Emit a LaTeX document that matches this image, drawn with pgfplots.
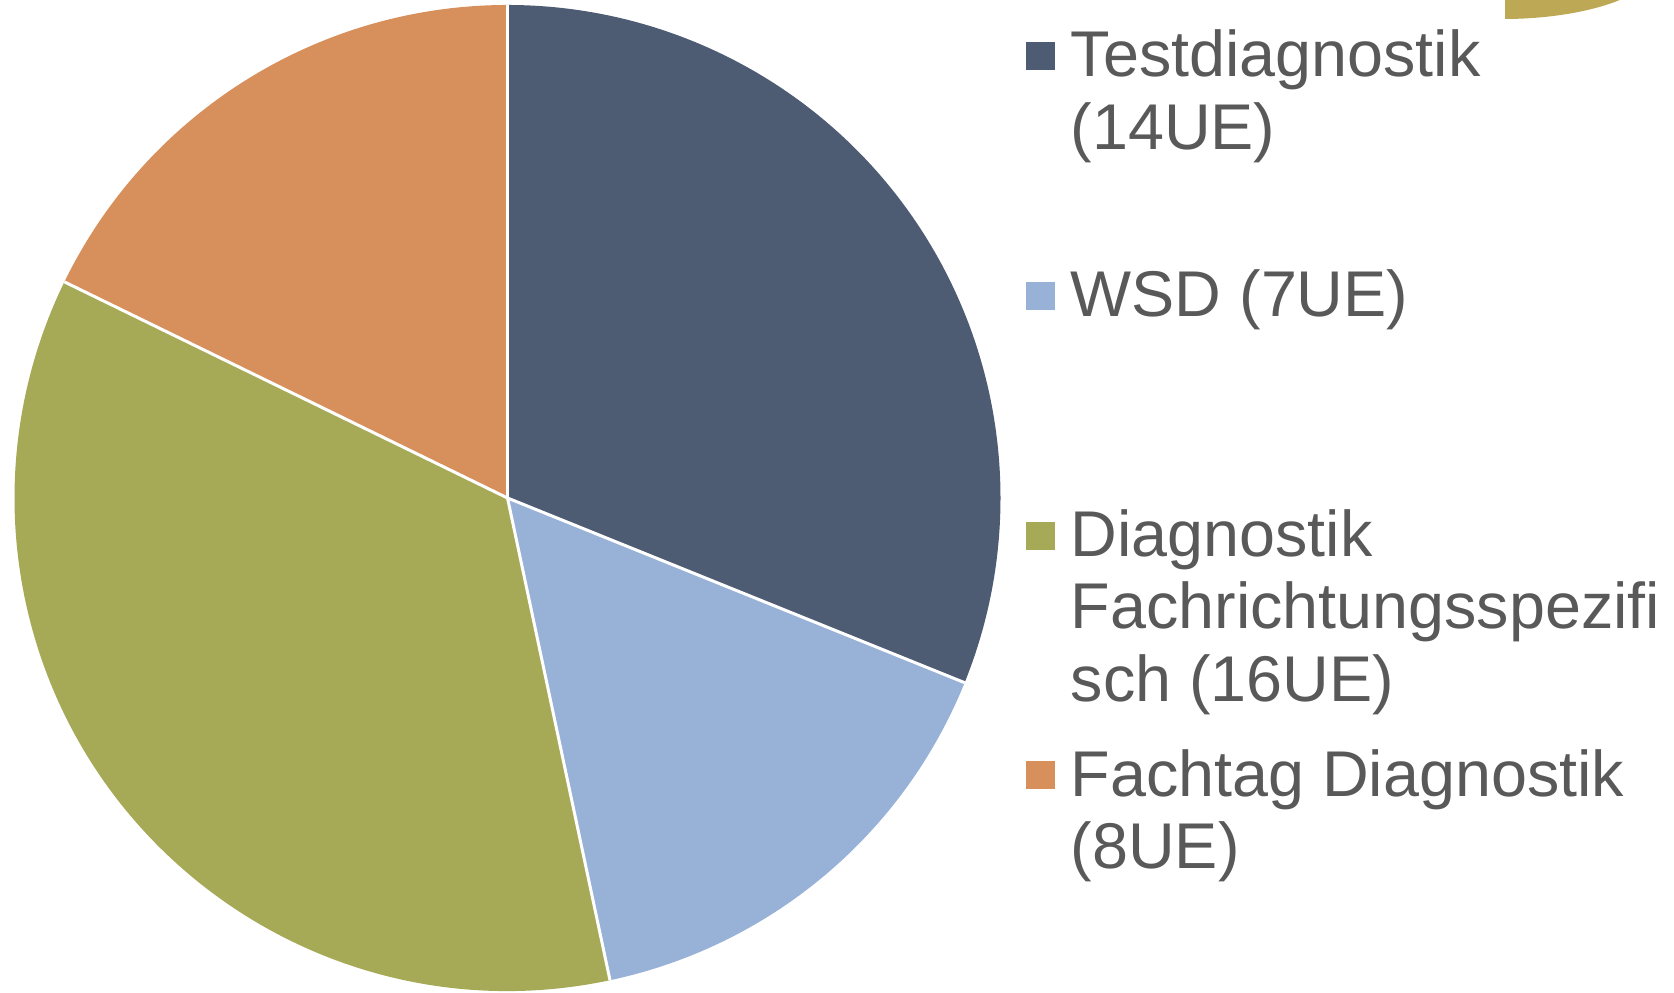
\documentclass[border=0pt]{standalone}
\usepackage{fontspec}
\setmainfont{Liberation Sans}
\usepackage{pgfplots}
\usepackage{pgfplotstable}
\pgfplotsset{compat=1.18}

\definecolor{cTest}{HTML}{4D5B73}
\definecolor{cWSD}{HTML}{97B1D7}
\definecolor{cDiag}{HTML}{A6AA57}
\definecolor{cFach}{HTML}{D78F5C}
\definecolor{cGold}{HTML}{BDA955}
\definecolor{txt}{HTML}{595959}

\pgfplotstableread{
label value
Testdiagnostik 14
WSD 7
Diagnostik 16
Fachtag 8
}\pietable

\newcommand\entry[1]{\parbox[t]{62mm}{\raggedright #1}}

\begin{document}
\begin{tikzpicture}
% slice angles, clockwise from 12 o'clock
\pgfplotstablegetelem{0}{value}\of\pietable\let\vA\pgfplotsretval
\pgfplotstablegetelem{1}{value}\of\pietable\let\vB\pgfplotsretval
\pgfplotstablegetelem{2}{value}\of\pietable\let\vC\pgfplotsretval
\pgfplotstablegetelem{3}{value}\of\pietable\let\vD\pgfplotsretval
\pgfmathsetmacro\tot{\vA+\vB+\vC+\vD}
\pgfmathsetmacro\aA{90}
\pgfmathsetmacro\aB{\aA-360*\vA/\tot}
\pgfmathsetmacro\aC{\aB-360*\vB/\tot}
\pgfmathsetmacro\aD{\aC-360*\vC/\tot}
\pgfmathsetmacro\aE{\aD-360*\vD/\tot}
\def\R{49.3mm}
\begin{axis}[width=167.4mm,height=99.3mm,scale only axis,
hide axis,xmin=0,xmax=1674,ymin=0,ymax=993,
legend style={at={(0.6123,0.9705)},anchor=north west,draw=none,fill=none,
inner sep=0pt,column sep=1.6mm,row sep=18.76mm,
nodes={inner sep=0pt,text=txt},
font=\fontsize{18.4}{20.6}\selectfont},
legend cell align=left,
legend image code/.code={\fill[#1] (0mm,-1.4mm) rectangle (2.9mm,1.4mm);}]
\fill[cTest] (axis cs:507.5,495) -- ++(\aA:\R) arc[start angle=\aA,end angle=\aB,radius=\R] -- cycle;
\fill[cWSD] (axis cs:507.5,495) -- ++(\aB:\R) arc[start angle=\aB,end angle=\aC,radius=\R] -- cycle;
\fill[cDiag] (axis cs:507.5,495) -- ++(\aC:\R) arc[start angle=\aC,end angle=\aD,radius=\R] -- cycle;
\fill[cFach] (axis cs:507.5,495) -- ++(\aD:\R) arc[start angle=\aD,end angle=\aE,radius=\R] -- cycle;
\draw[white,line width=0.3mm] (axis cs:507.5,495) -- ++(\aA:\R);
\draw[white,line width=0.3mm] (axis cs:507.5,495) -- ++(\aB:\R);
\draw[white,line width=0.3mm] (axis cs:507.5,495) -- ++(\aC:\R);
\draw[white,line width=0.3mm] (axis cs:507.5,495) -- ++(\aD:\R);
% partial shape cut off at the top right
\fill[cGold] (axis cs:1505,994) -- (axis cs:1505,974) .. controls (axis cs:1550,974) and (axis cs:1595,982) .. (axis cs:1622,994) -- cycle;
\addlegendimage{fill=cTest,draw=none}
\addlegendentry{\entry{Testdiagnostik\\(14UE)}}
\addlegendimage{fill=cWSD,draw=none}
\addlegendentry{\entry{WSD (7UE)}}
\addlegendimage{fill=cDiag,draw=none}
\addlegendentry{\entry{Diagnostik\\Fachrichtungsspezifi\\sch (16UE)}}
\addlegendimage{fill=cFach,draw=none}
\addlegendentry{\entry{Fachtag Diagnostik\\(8UE)}}
\end{axis}
\pgfresetboundingbox
\useasboundingbox (current axis.south west) rectangle (current axis.north east);
\end{tikzpicture}
\end{document}
